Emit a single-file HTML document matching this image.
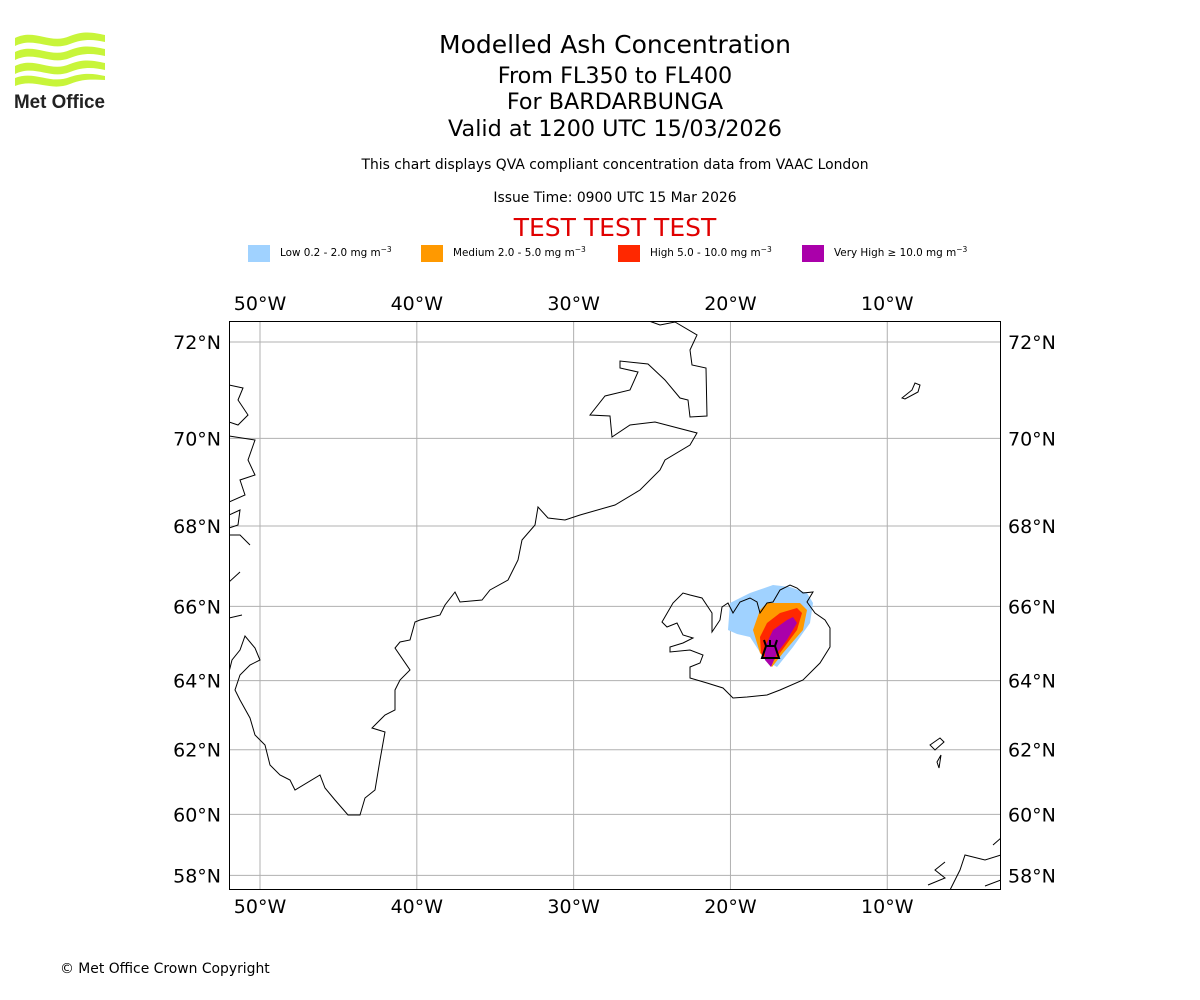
<!DOCTYPE html>
<html><head><meta charset="utf-8">
<style>
body{margin:0;background:#fff;width:1200px;height:1000px;overflow:hidden;font-family:"DejaVu Sans","Liberation Sans",sans-serif;}
.t{position:absolute;left:0;width:1230px;text-align:center;color:#000;white-space:nowrap}
svg{position:absolute;left:0;top:0}
</style></head><body>
<div class="t" style="top:30px;font-size:25px">Modelled Ash Concentration</div>
<div class="t" style="top:63px;font-size:22.3px">From FL350 to FL400</div>
<div class="t" style="top:89px;font-size:22.3px">For BARDARBUNGA</div>
<div class="t" style="top:116px;font-size:22.3px">Valid at 1200 UTC 15/03/2026</div>
<div class="t" style="top:157px;font-size:13.9px">This chart displays QVA compliant concentration data from VAAC London</div>
<div class="t" style="top:190px;font-size:13.9px">Issue Time: 0900 UTC 15 Mar 2026</div>
<div class="t" style="top:213px;font-size:25px;color:#e00000">TEST TEST TEST</div>
<div style="position:absolute;left:60px;top:961px;font-size:13.9px">© Met Office Crown Copyright</div>

<svg width="1200" height="1000" id="s">
 <g>
  <path d="M15,38 C35,28 50,45 70,36 C85,30 95,33 105,35 L105,42 C95,40 85,38 70,44 C50,52 35,36 15,46Z" fill="#c8f53a"/>
  <path d="M15,52 C35,42 50,59 70,50 C85,44 95,47 105,49 L105,56 C95,54 85,52 70,58 C50,66 35,50 15,60Z" fill="#c8f53a"/>
  <path d="M15,66 C35,56 50,73 70,64 C85,58 95,61 105,63 L105,70 C95,68 85,66 70,72 C50,80 35,64 15,74Z" fill="#c8f53a"/>
  <path d="M15,78 C35,70 50,85 70,77 C85,72 95,74 105,76 L105,80 C95,80 85,78 70,84 C50,92 35,78 15,86Z" fill="#c8f53a"/>
  <text x="14" y="108" font-family="Liberation Sans" font-weight="bold" font-size="19" fill="#222" textLength="91" lengthAdjust="spacingAndGlyphs">Met Office</text>
 </g>
 <g font-size="10.4" font-family="DejaVu Sans">
  <rect x="248" y="245" width="22" height="17" fill="#a0d2ff"/>
  <text x="280" y="256">Low 0.2 - 2.0 mg m<tspan dy="-4" font-size="7.5">−3</tspan></text>
  <rect x="421" y="245" width="22" height="17" fill="#ff9900"/>
  <text x="453" y="256">Medium 2.0 - 5.0 mg m<tspan dy="-4" font-size="7.5">−3</tspan></text>
  <rect x="618" y="245" width="22" height="17" fill="#ff2800"/>
  <text x="650" y="256">High 5.0 - 10.0 mg m<tspan dy="-4" font-size="7.5">−3</tspan></text>
  <rect x="802" y="245" width="22" height="17" fill="#aa00aa"/>
  <text x="834" y="256">Very High  ≥  10.0 mg m<tspan dy="-4" font-size="7.5">−3</tspan></text>
 </g>
 <defs><clipPath id="c"><rect x="229" y="321" width="772" height="569"/></clipPath></defs>
 <g id="grid"></g>
 <g clip-path="url(#c)" fill="none" stroke="#000" stroke-width="1">
  <g stroke="none">
   <path fill="#a0d2ff" d="M728,630 L730,603 L750,593 L773,585 L790,587 L807,593 L813,603 L810,623 L793,647 L777,667 L765,660 L750,637 L737,634Z"/>
   <path fill="#ff9900" d="M753,630 L760,610 L767,603 L800,603 L807,610 L803,630 L783,653 L772,667 L760,653Z"/>
   <path fill="#ff2800" d="M760,637 L767,623 L780,613 L797,608 L802,613 L797,630 L780,653 L770,665 L761,653Z"/>
   <path fill="#aa00aa" d="M765,647 L773,630 L787,620 L793,617 L797,623 L787,640 L777,653 L771,667 L765,660Z"/>
  </g>
  <g>
   <path d="M649,321 L660,325 L675,322 L697,335 L690,350 L692,365 L706,368 L707,416 L690,417 L688,400 L680,398 L665,380 L648,364 L620,361 L620,368 L638,372 L630,390 L605,396 L590,415 L610,416 L612,437 L630,425 L655,422 L697,433 L690,445 L665,460 L660,470 L640,490 L615,505 L580,515 L565,520 L548,518 L538,507 L535,525 L522,540 L518,560 L508,580 L490,590 L482,600 L460,602 L455,592 L445,605 L440,615 L420,620 L415,622 L410,640 L400,642 L395,648 L410,670 L400,680 L395,690 L395,710 L385,715 L372,728 L385,732 L380,760 L375,790 L365,798 L360,815 L348,815 L335,800 L325,788 L320,775 L295,790 L290,780 L280,775 L270,765 L265,745 L255,735 L250,718 L240,700 L235,690 L240,675 L250,665 L260,660 L255,648 L245,636 L240,650 L232,660 L229,672"/>
   <path d="M229,385 L243,388 L238,400 L248,415 L238,425 L229,422"/>
   <path d="M229,436 L255,440 L248,460 L255,475 L240,480 L245,495 L229,502"/>
   <path d="M229,515 L240,510 L238,525 L229,528 M229,535 L240,535 L250,545"/>
   <path d="M229,582 L240,572 M229,618 L242,615"/>
   <path d="M662,622 L673,603 L683,593 L690,595 L702,598 L712,613 L712,632 L720,620 L722,607 L728,603 L733,613 L740,602 L750,598 L757,602 L760,613 L767,603 L773,602 L780,590 L790,585 L797,588 L803,593 L813,592 L807,602 L815,613 L825,620 L830,628 L830,647 L820,663 L803,680 L780,690 L767,695 L747,697 L733,698 L723,688 L707,683 L690,678 L690,667 L700,663 L703,655 L690,650 L670,652 L670,647 L683,643 L693,638 L683,635 L677,623 L667,627 L662,622Z"/>
   <path d="M902,398 L912,390 L915,383 L920,385 L918,392 L905,399Z"/>
   <path d="M930,745 L940,738 L944,742 L935,750Z M937,762 L941,755 L939,768Z"/>
   <path d="M1001,855 L985,860 L965,855 L960,870 L955,880 L950,890 M945,862 L935,870 L945,878 L928,885 M1001,880 L985,886 M993,845 L1001,838"/>
  </g>
  <g stroke-width="2">
   <path d="M762,658 L766,646 L775,646 L779,658 Z M766,646 L764,640 M775,646 L777,640 M770,646 L770,640"/>
  </g>
 </g>
 <rect x="229.5" y="321.5" width="771" height="568" fill="none" stroke="#000"/>
</svg>
<script>
const lonTicks=[-50,-40,-30,-20,-10];
const latTicks=[72,70,68,66,64,62,60,58];
const lonLabels=["50°W","40°W","30°W","20°W","10°W"];
const latLabels=["72°N","70°N","68°N","66°N","64°N","62°N","60°N","58°N"];
const K=898.5;
function merc(l){return Math.log(Math.tan(Math.PI/4+l*Math.PI/360));}
function xOf(lon){return 260+(lon+50)*K*Math.PI/180;}
function yOf(lat){return 342+K*(merc(72)-merc(lat));}
const NS="http://www.w3.org/2000/svg";
const g=document.getElementById('grid');
const svg=document.getElementById('s');
function mk(t,a){const e=document.createElementNS(NS,t);for(const k in a)e.setAttribute(k,a[k]);return e;}
lonTicks.forEach((lon,i)=>{
 const x=xOf(lon);
 const l=mk('line',{x1:x,x2:x,y1:321,y2:890,stroke:'#b0b0b0','stroke-width':1});
 
 
 g.appendChild(l);
 [310,913].forEach(y=>{
  const t=mk('text',{x:x,y:y,'text-anchor':'middle','font-size':19,'font-family':'DejaVu Sans'});
  t.textContent=lonLabels[i];
  
  
  svg.appendChild(t);
 });
});
latTicks.forEach((lat,i)=>{
 const y=yOf(lat);
 const l=mk('line',{x1:229,x2:1001,y1:y,y2:y,stroke:'#b0b0b0','stroke-width':1});
 
 
 g.appendChild(l);
 const a=mk('text',{x:221,y:y+7,'text-anchor':'end','font-size':19,'font-family':'DejaVu Sans'});
 a.textContent=latLabels[i];
 
 
 svg.appendChild(a);
 const b=mk('text',{x:1008,y:y+7,'text-anchor':'start','font-size':19,'font-family':'DejaVu Sans'});
 b.textContent=latLabels[i];
 
 
 svg.appendChild(b);
});
</script>
</body></html>
